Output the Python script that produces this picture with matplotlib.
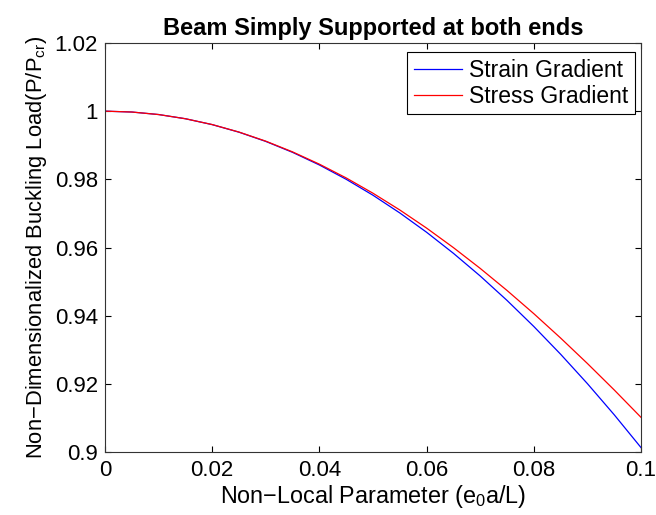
import matplotlib
matplotlib.use("Agg")
import matplotlib.pyplot as plt

x = [0.0, 0.005, 0.01, 0.015, 0.02, 0.025, 0.03, 0.035, 0.04, 0.045, 0.05,
     0.055, 0.06, 0.065, 0.07, 0.075, 0.08, 0.085, 0.09, 0.095, 0.1]
strain = [1.0, 0.99975, 0.99901, 0.99778, 0.99605, 0.99383, 0.99112, 0.98791,
          0.98421, 0.98001, 0.97533, 0.97014, 0.96447, 0.95830, 0.95164,
          0.94448, 0.93683, 0.92869, 0.92006, 0.91093, 0.90130]
stress = [1.0, 0.99975, 0.99901, 0.99778, 0.99607, 0.99387, 0.99120, 0.98805,
          0.98445, 0.98041, 0.97592, 0.97101, 0.96569, 0.95997, 0.95387,
          0.94740, 0.94059, 0.93344, 0.92597, 0.91821, 0.91017]
xticks = [0, 0.02, 0.04, 0.06, 0.08, 0.1]
xticklabels = ["0", "0.02", "0.04", "0.06", "0.08", "0.1"]
yticks = [0.9, 0.92, 0.94, 0.96, 0.98, 1.0, 1.02]
yticklabels = ["0.9", "0.92", "0.94", "0.96", "0.98", "1", "1.02"]

plt.rcParams['font.family'] = ['Liberation Sans', 'DejaVu Sans']
plt.rcParams['mathtext.fontset'] = 'custom'
plt.rcParams['mathtext.rm'] = 'Liberation Sans'
plt.rcParams['mathtext.it'] = 'Liberation Sans'
fig = plt.figure(figsize=(6.56, 5.15), dpi=100)
ax = fig.add_axes([105 / 656, 1 - 452 / 515, 536 / 656, 409 / 515])
ax.plot(x, strain, color='#0000ff', lw=0.9, label='Strain Gradient')
ax.plot(x, stress, color='#ff0000', lw=0.9, label='Stress Gradient')
ax.set_xlim(0, 0.1)
ax.set_ylim(0.9, 1.02)
ax.set_xticks(xticks)
ax.set_xticklabels(xticklabels)
ax.set_yticks(yticks)
ax.set_yticklabels(yticklabels)
ax.tick_params(direction='in', top=True, right=True, labelsize=16, length=4, width=0.8)
ax.tick_params(axis='x', pad=6)
ax.tick_params(axis='y', pad=5)
for s in ax.spines.values():
    s.set_linewidth(0.8)
    s.set_color('#333333')
ax.set_title('Beam Simply Supported at both ends', fontsize=17, fontweight='bold', pad=6)
ax.set_xlabel('Non\u2212Local Parameter (e$_{\\rm 0}$a/L)', fontsize=16.8, labelpad=1)
ax.set_ylabel('Non\u2212Dimensionalized Buckling Load(P/P$_{\\rm cr}$)', fontsize=15.8, labelpad=4)
leg = ax.legend(loc='upper right', bbox_to_anchor=(0.9888, 0.978), fontsize=16.5,
                fancybox=False, framealpha=1, edgecolor='black', handlelength=2.1,
                borderaxespad=0, borderpad=0.3, labelspacing=0.12, handletextpad=0.3)
leg.get_frame().set_linewidth(0.8)
fig.savefig('out.png', dpi=100)
